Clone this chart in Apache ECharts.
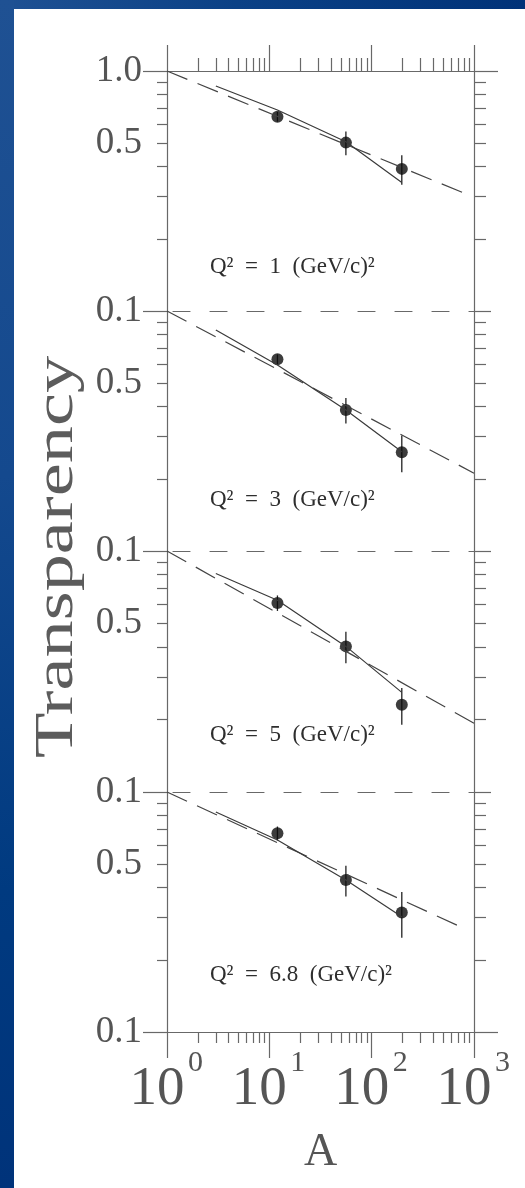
<!DOCTYPE html>
<html>
<head>
<meta charset="utf-8">
<script src="https://cdn.jsdelivr.net/npm/echarts@6/dist/echarts.min.js"></script>
<style>
  html, body { margin: 0; padding: 0; }
  body { width: 525px; height: 1188px; position: relative; overflow: hidden; background: #00337a; }
  #topband { position: absolute; left: 0; top: 0; width: 525px; height: 9px;
    background: linear-gradient(to right, #1f5193 0%, #0b4186 45%, #003278 100%); }
  #leftband { position: absolute; left: 0; top: 0; width: 14px; height: 1188px;
    background: linear-gradient(to bottom, #1f5193 0%, #14498e 40%, #003a80 75%, #00337a 100%); }
  #sheet { position: absolute; left: 14px; top: 9px; right: 0; bottom: 0; background: #ffffff; }
  #chart { position: absolute; left: 0; top: 0; width: 525px; height: 1188px; }
</style>
</head>
<body>
<div id="topband"></div>
<div id="leftband"></div>
<div id="sheet"></div>
<div id="chart"></div>
<script>
// Nuclear transparency of C, Fe and Au versus mass number A at four Q^2 values.
// Both axes are logarithmic: data are placed on value axes in log10 units.

const massNumbers = [12, 56, 197];            // C, Fe, Au
const q2Labels = ['1', '3', '5', '6.8'];

// measured transparency and its uncertainty
const transparencyQ1  = [0.645, 0.503, 0.391];
const transparencyQ3  = [0.629, 0.387, 0.258];
const transparencyQ5  = [0.609, 0.402, 0.230];
const transparencyQ68 = [0.673, 0.430, 0.315];

const errorQ1  = [0.030, 0.057, 0.055];
const errorQ3  = [0.030, 0.047, 0.045];
const errorQ5  = [0.045, 0.060, 0.040];
const errorQ68 = [0.045, 0.063, 0.068];

// calculation (solid curve)
const calcA    = [3, 12, 56, 197];
const calcQ1   = [0.866, 0.688, 0.507, 0.343];
const calcQ3   = [0.833, 0.596, 0.387, 0.259];
const calcQ5   = [0.807, 0.625, 0.402, 0.259];
const calcQ68  = [0.825, 0.631, 0.430, 0.302];

// power-law fit T = A^(alpha-1) (dashed line): end points [A, T]
const fitQ1  = [[1, 1.0], [800, 0.310]];
const fitQ3  = [[1, 1.0], [1000, 0.211]];
const fitQ5  = [[1, 1.0], [1000, 0.193]];
const fitQ68 = [[1, 1.0], [730, 0.275]];

// axis ticks
const xMajorTicks = [1, 10, 100, 1000];
const xMinorTicks = [2, 3, 4, 5, 6, 7, 8, 9, 20, 30, 40, 50, 60, 70, 80, 90,
                     200, 300, 400, 500, 600, 700, 800, 900];
const yMinorTicks = [0.2, 0.3, 0.4, 0.5, 0.6, 0.7, 0.8, 0.9];
const yTopLabel = 1.0, yMidLabel = 0.5, yBottomLabel = 0.1;

const LOG = Math.log10;

const panels = [
  { q2: q2Labels[0], T: transparencyQ1,  err: errorQ1,  calc: calcQ1,  fit: fitQ1 },
  { q2: q2Labels[1], T: transparencyQ3,  err: errorQ3,  calc: calcQ3,  fit: fitQ3 },
  { q2: q2Labels[2], T: transparencyQ5,  err: errorQ5,  calc: calcQ5,  fit: fitQ5 },
  { q2: q2Labels[3], T: transparencyQ68, err: errorQ68, calc: calcQ68, fit: fitQ68 }
];

// layout
const gridLeft = 167, gridWidth = 307;
const gridTops = [71, 311, 551, 792];
const gridHeights = [240, 240, 241, 240];
const noteOffsets = [196, 189, 184, 183];

const SERIF = '"Liberation Serif", "DejaVu Serif", serif';
const axisColor = '#686868';
const textColor = '#555';
const lineW = 1.2;
const dashPattern = [17, 20];

const grids = gridTops.map((top, i) => ({
  left: gridLeft, top: top, width: gridWidth, height: gridHeights[i],
  outerBoundsMode: 'none', containLabel: false
}));

const xAxes = [];
const yAxes = [];
const series = [];

function baseX(grid, position) {
  return {
    gridIndex: grid, type: 'value', min: 0, max: 3, position: position,
    axisLine: { show: false, onZero: false },
    axisTick: { show: false },
    axisLabel: { show: false },
    splitLine: { show: false }
  };
}
function baseY(grid, position) {
  return {
    gridIndex: grid, type: 'value', min: -1, max: 0, position: position,
    axisLine: { show: false, onZero: false },
    axisTick: { show: false },
    axisLabel: { show: false },
    splitLine: { show: false }
  };
}
function ticks(values, length, type) {
  return {
    show: true, inside: false, length: length, customValues: values.map(LOG),
    lineStyle: { color: axisColor, width: lineW, type: type || 'solid' }
  };
}

// main x axis of every panel (bottom edge: dashed separator, solid at the foot)
panels.forEach((p, i) => {
  const last = i === panels.length - 1;
  const ax = baseX(i, 'bottom');
  ax.axisLine = { show: true, onZero: false,
    lineStyle: { color: axisColor, width: lineW, type: last ? 'solid' : dashPattern, dashOffset: -6 } };
  if (last) {
    ax.axisTick = ticks(xMajorTicks, 26);
    // mantissa "10" of the decade labels
    ax.axisLabel = {
      show: true, customValues: xMajorTicks.map(LOG), margin: 30,
      fontFamily: SERIF, fontSize: 55, color: textColor,
      padding: [0, 20, 0, 0],
      formatter: () => '10'
    };
    ax.name = 'A';
    ax.nameLocation = 'middle';
    ax.nameGap = 98;
    ax.nameTextStyle = { fontFamily: SERIF, fontSize: 46, color: textColor };
  }
  xAxes.push(ax);
});
// top frame of the first panel
const xTopMajor = baseX(0, 'top');
xTopMajor.axisLine = { show: true, onZero: false, lineStyle: { color: axisColor, width: lineW } };
xTopMajor.axisTick = ticks(xMajorTicks, 26);
xAxes.push(xTopMajor);
const xTopMinor = baseX(0, 'top');
xTopMinor.axisTick = ticks(xMinorTicks, 13);
xAxes.push(xTopMinor);
// minor ticks under the last panel
const xBottomMinor = baseX(3, 'bottom');
xBottomMinor.axisTick = ticks(xMinorTicks, 11);
xAxes.push(xBottomMinor);
// exponents of the decade labels
const xExponent = baseX(3, 'bottom');
xExponent.axisLabel = {
  show: true, customValues: xMajorTicks.map(LOG), margin: 16,
  fontFamily: SERIF, fontSize: 30, color: textColor,
  padding: [0, 0, 0, 57],
  formatter: v => String(Math.round(v))
};
xAxes.push(xExponent);

// y axes
const mainY = [];
panels.forEach((p, i) => {
  const left = baseY(i, 'left');
  left.axisLine = { show: true, onZero: false, lineStyle: { color: axisColor, width: lineW } };
  left.axisTick = ticks(yMinorTicks, 10);
  const labelValues = i === 0 ? [yTopLabel, yMidLabel, yBottomLabel] : [yMidLabel, yBottomLabel];
  left.axisLabel = {
    show: true, customValues: labelValues.map(LOG), margin: 25,
    fontFamily: SERIF, fontSize: 37, color: textColor,
    formatter: v => Math.pow(10, v).toFixed(1)
  };
  mainY.push(yAxes.length);
  yAxes.push(left);

  const right = baseY(i, 'right');
  right.axisLine = { show: true, onZero: false, lineStyle: { color: axisColor, width: lineW } };
  right.axisTick = ticks(yMinorTicks, 12);
  yAxes.push(right);

  const leftLong = baseY(i, 'left');
  leftLong.axisTick = ticks(i === 0 ? [1, 0.1] : [0.1], 24);
  yAxes.push(leftLong);

  if (i === 0) {
    const rightTop = baseY(i, 'right');
    rightTop.axisTick = ticks([1], 24);
    yAxes.push(rightTop);
  } else {
    const rightSep = baseY(i, 'right');
    rightSep.axisTick = ticks([1], 24, dashPattern);
    yAxes.push(rightSep);
  }
  if (i === panels.length - 1) {
    const rightFoot = baseY(i, 'right');
    rightFoot.axisTick = ticks([0.1], 24);
    yAxes.push(rightFoot);
  }
});

// series
panels.forEach((p, i) => {
  const xi = i, yi = mainY[i];
  series.push({
    type: 'line', xAxisIndex: xi, yAxisIndex: yi, symbol: 'none', silent: true,
    data: p.fit.map(d => [LOG(d[0]), LOG(d[1])]),
    lineStyle: { color: '#444', width: 1.2, type: [22, 11] }
  });
  series.push({
    type: 'line', xAxisIndex: xi, yAxisIndex: yi, symbol: 'none', silent: true,
    data: calcA.map((a, k) => [LOG(a), LOG(p.calc[k])]),
    lineStyle: { color: '#3a3a3a', width: 1.2 }
  });
  series.push({
    type: 'custom', xAxisIndex: xi, yAxisIndex: yi, silent: true,
    encode: { x: 0, y: [1, 2] },
    data: massNumbers.map((a, k) => [LOG(a), LOG(p.T[k] - p.err[k]), LOG(p.T[k] + p.err[k])]),
    renderItem: (params, api) => {
      const lo = api.coord([api.value(0), api.value(1)]);
      const hi = api.coord([api.value(0), api.value(2)]);
      return { type: 'line', shape: { x1: lo[0], y1: lo[1], x2: hi[0], y2: hi[1] },
               style: { stroke: '#222', lineWidth: 1.3 } };
    }
  });
  series.push({
    type: 'scatter', xAxisIndex: xi, yAxisIndex: yi, silent: true,
    symbol: 'circle', symbolSize: 12,
    data: massNumbers.map((a, k) => [LOG(a), LOG(p.T[k])]),
    itemStyle: { color: '#0d0d0d' }
  });
});

const graphics = panels.map((p, i) => ({
  type: 'text', x: 210, y: gridTops[i] + noteOffsets[i], silent: true,
  style: {
    text: 'Q²  =  ' + p.q2 + '  (GeV/c)²',
    font: '23px ' + SERIF, fill: '#2e2e2e',
    align: 'left', verticalAlign: 'middle', textAlign: 'left', textVerticalAlign: 'middle'
  }
}));
graphics.push({
  type: 'text', x: 57, y: 557, rotation: Math.PI / 2, scaleX: 1.2, scaleY: 0.9, silent: true,
  style: {
    text: 'Transparency', font: '62px ' + SERIF, fill: '#5c5c5c',
    align: 'center', verticalAlign: 'middle', textAlign: 'center', textVerticalAlign: 'middle'
  }
});

const chart = echarts.init(document.getElementById('chart'), null, { renderer: 'canvas' });
chart.setOption({
  animation: false,
  backgroundColor: 'transparent',
  grid: grids,
  xAxis: xAxes,
  yAxis: yAxes,
  series: series,
  graphic: graphics
});
</script>
</body>
</html>
